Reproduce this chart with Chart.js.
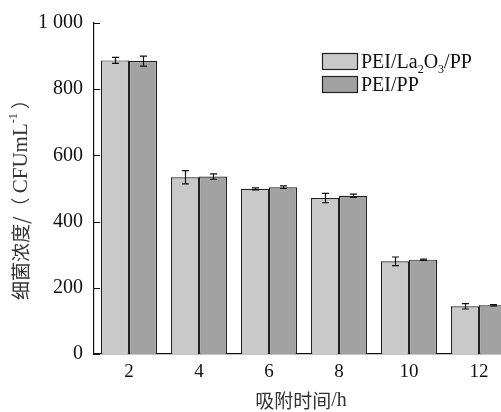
<!DOCTYPE html>
<html>
<head>
<meta charset="utf-8">
<script src="https://cdn.jsdelivr.net/npm/chart.js@4/dist/chart.umd.min.js"></script>
<style>
html,body{margin:0;padding:0;background:#fff;overflow:hidden;width:501px;height:412px;}
#wrap{position:absolute;left:0;top:0;width:520px;height:412px;}
</style>
</head>
<body>
<div id="wrap"><canvas id="c" width="520" height="412"></canvas></div>
<script>
const categories = ['2', '4', '6', '8', '10', '12'];
const laValues = [887, 534, 499, 471, 280, 144];
const laErrors = [9, 20, 3, 14, 13, 8];
const ppValues = [885, 536, 504, 478, 285, 147];
const ppErrors = [15, 8, 4, 5, 2, 2];
const yTickValues = [0, 200, 400, 600, 800, 1000];
const yTickLabels = ['0', '200', '400', '600', '800', '1 000'];
const legendParts = [
  [['PEI/La', 0], ['2', 1], ['O', 0], ['3', 1], ['/PP', 0]],
  [['PEI/PP', 0]]
];

const SERIF = '"Liberation Serif", "DejaVu Serif", serif';
const CJK = '"Noto Sans CJK SC", sans-serif';

const decorPlugin = {
  id: 'decor',
  afterDatasetsDraw(chart) {
    const ctx = chart.ctx;
    const y = chart.scales.y;
    const errs = [laErrors, ppErrors];
    chart.data.datasets.forEach((ds, di) => {
      const meta = chart.getDatasetMeta(di);
      meta.data.forEach((bar, i) => {
        const v = ds.data[i], e = errs[di][i];
        const yt = y.getPixelForValue(v + e), yb = y.getPixelForValue(v - e);
        const x = Math.round(bar.x) + 0.5;
        ctx.save();
        ctx.strokeStyle = '#111';
        ctx.lineWidth = 1.2;
        ctx.beginPath();
        ctx.moveTo(x, yt); ctx.lineTo(x, yb);
        ctx.moveTo(x - 3.5, yt); ctx.lineTo(x + 3.5, yt);
        ctx.moveTo(x - 3.5, yb); ctx.lineTo(x + 3.5, yb);
        ctx.stroke();
        ctx.restore();
      });
    });
  },
  afterDraw(chart) {
    const ctx = chart.ctx;
    const y = chart.scales.y;
    const area = chart.chartArea;
    ctx.save();
    ctx.strokeStyle = '#111';
    ctx.lineWidth = 1.2;
    ctx.beginPath();
    yTickValues.forEach(v => {
      const py = Math.round(y.getPixelForValue(v)) + 0.5;
      ctx.moveTo(area.left, py); ctx.lineTo(area.left + 6, py);
    });
    ctx.stroke();
    ctx.restore();

    // legend
    const colors = chart.data.datasets.map(d => d.backgroundColor);
    const lx = 322, ly = [53, 76];
    legendParts.forEach((parts, i) => {
      ctx.save();
      ctx.fillStyle = colors[i];
      ctx.strokeStyle = '#222';
      ctx.lineWidth = 1.2;
      ctx.fillRect(lx, ly[i], 35, 16);
      ctx.strokeRect(lx + 0.5, ly[i] + 0.5, 35, 16);
      let tx = 361;
      const base = ly[i] + 14.5;
      ctx.fillStyle = '#111';
      ctx.textBaseline = 'alphabetic';
      parts.forEach(([t, sub]) => {
        ctx.font = (sub ? '12px ' : '20px ') + SERIF;
        ctx.fillText(t, tx, sub ? base + 5 : base);
        tx += ctx.measureText(t).width;
      });
      ctx.restore();
    });

    // x title
    ctx.save();
    ctx.fillStyle = '#333';
    ctx.textBaseline = 'middle';
    const xParts = [['吸附时间', CJK, 19], ['/h', SERIF, 20]];
    let w = 0;
    xParts.forEach(([t, f, s]) => { ctx.font = s + 'px ' + f; w += ctx.measureText(t).width; });
    let x0 = 301 - w / 2;
    xParts.forEach(([t, f, s]) => { ctx.font = s + 'px ' + f; ctx.fillText(t, x0, 401); x0 += ctx.measureText(t).width; });
    ctx.restore();

    // y title
    ctx.save();
    ctx.translate(21, 195);
    ctx.rotate(-Math.PI / 2);
    ctx.fillStyle = '#333';
    ctx.textBaseline = 'middle';
    const yParts = [['细菌浓度/（ ', CJK, 19, 0], ['CFUmL', SERIF, 21, 0], ['-1', SERIF, 12, -7], [' ）', CJK, 19, 0]];
    w = 0;
    yParts.forEach(([t, f, s]) => { ctx.font = s + 'px ' + f; w += ctx.measureText(t).width; });
    x0 = -w / 2;
    yParts.forEach(([t, f, s, dy]) => { ctx.font = s + 'px ' + f; ctx.fillText(t, x0, dy); x0 += ctx.measureText(t).width; });
    ctx.restore();
  }
};

new Chart(document.getElementById('c'), {
  type: 'bar',
  data: {
    labels: categories,
    datasets: [
      { label: 'PEI/La2O3/PP', data: laValues, backgroundColor: '#c9c9c9', borderColor: '#222', borderWidth: 1.2, borderSkipped: 'bottom' },
      { label: 'PEI/PP', data: ppValues, backgroundColor: '#a2a2a2', borderColor: '#222', borderWidth: 1.2, borderSkipped: 'bottom' }
    ]
  },
  options: {
    responsive: false,
    animation: false,
    layout: { padding: { top: 22, right: 6, left: 0, bottom: 0 } },
    datasets: { bar: { categoryPercentage: 0.8, barPercentage: 1.0 } },
    plugins: { legend: { display: false }, tooltip: { enabled: false } },
    scales: {
      x: {
        grid: { display: false, drawTicks: false },
        border: { display: true, color: '#111', width: 1.2 },
        ticks: { color: '#111', font: { family: SERIF, size: 19 }, padding: 7 },
        afterFit(s) { s.height = 58; }
      },
      y: {
        min: 0, max: 1000,
        afterBuildTicks(s) { s.ticks = yTickValues.map(v => ({ value: v })); },
        grid: { display: false, drawTicks: false },
        border: { display: true, color: '#111', width: 1.2 },
        ticks: {
          color: '#111', font: { family: SERIF, size: 20 }, padding: 11,
          callback: (v) => yTickLabels[yTickValues.indexOf(v)]
        },
        afterFit(s) { s.width = 94; }
      }
    }
  },
  plugins: [decorPlugin]
});
</script>
</body>
</html>
